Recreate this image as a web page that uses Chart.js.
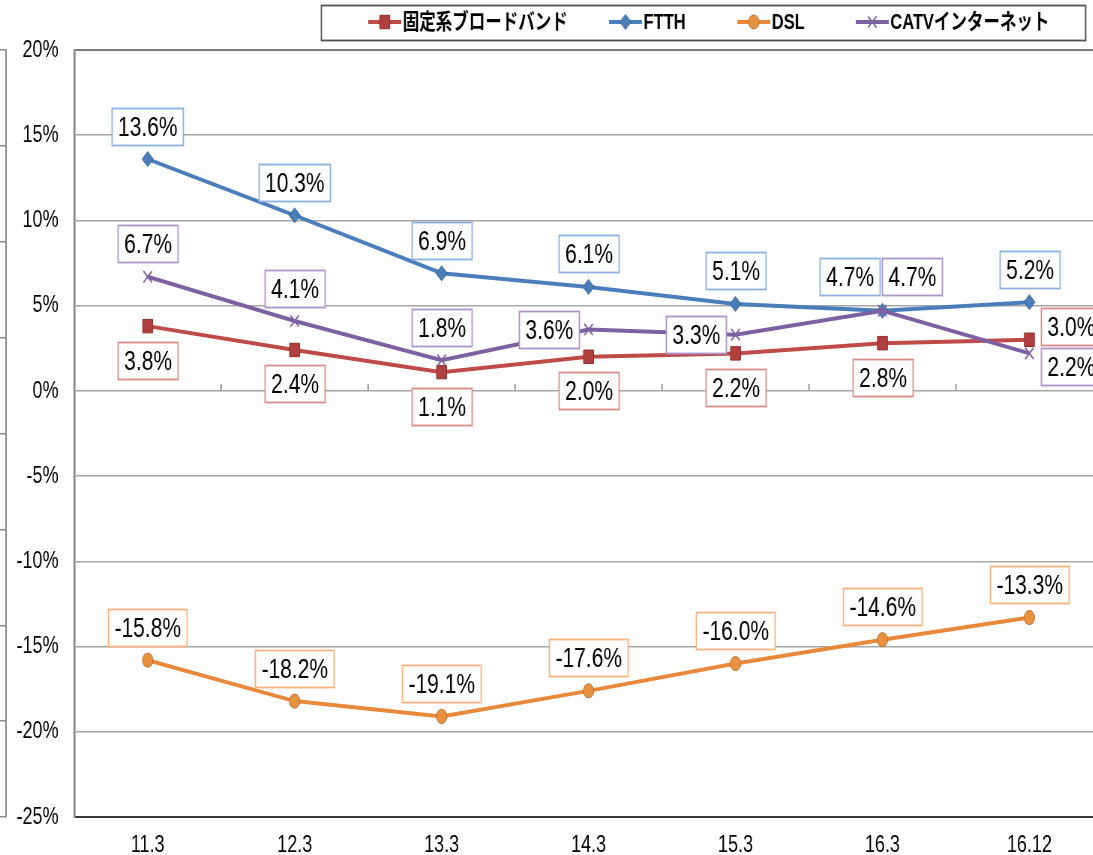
<!DOCTYPE html>
<html>
<head>
<meta charset="utf-8">
<script src="https://cdn.jsdelivr.net/npm/chart.js@4.4.1/dist/chart.umd.min.js"></script>
<style>
  html, body { margin: 0; padding: 0; overflow: hidden; background: #fff; }
  /* the chart is drawn wide and then compressed horizontally for a condensed look */
  canvas { display: block; transform: scaleX(0.75); transform-origin: 0 0; }
</style>
</head>
<body>
<canvas id="growth" width="1481" height="855"></canvas>
<script>
// Year-on-year change of subscriptions (%), by period
const categories = ['11.3', '12.3', '13.3', '14.3', '15.3', '16.3', '16.12'];
const broadband = [3.8, 2.4, 1.1, 2.0, 2.2, 2.8, 3.0];
const ftth      = [13.6, 10.3, 6.9, 6.1, 5.1, 4.7, 5.2];
const dsl       = [-15.8, -18.2, -19.1, -17.6, -16.0, -14.6, -13.3];
const catv      = [6.7, 4.1, 1.8, 3.6, 3.3, 4.7, 2.2];
const seriesNames = ['固定系ブロードバンド', 'FTTH', 'DSL', 'CATVインターネット'];

// value axis range and step (%)
const yMin = -25, yMax = 20, yStep = 5;

// where each value box sits relative to its point
const placeBroadband = ['below', 'below', 'below', 'below', 'below', 'below', 'rightUp'];
const placeFtth      = ['above', 'above', 'above', 'above', 'above', 'aboveLeft', 'above'];
const placeDsl       = ['above', 'above', 'above', 'above', 'above', 'above', 'above'];
const placeCatv      = ['above', 'above', 'above', 'left', 'left', 'aboveRight', 'rightDown'];

const SANS = '"Liberation Sans", Arial, sans-serif';
const TICK_FONT = { family: SANS, size: 24 };
const LABEL_FONT = '28px ' + SANS;

const styles = [
  { line: '#BE4B48', fill: '#B0403D', edge: '#8A2E2B', box: '#DA8A87', point: 'rect',     radius: 9.5, bw: 1 },
  { line: '#4A7EBB', fill: '#4A7EBB', edge: '#35608F', box: '#8AB0DE', point: 'rectRot',  radius: 7.5, bw: 1 },
  { line: '#E8883A', fill: '#E8913F', edge: '#B86A2C', box: '#F8B27A', point: 'circle',   radius: 7,   bw: 1 },
  { line: '#7D60A0', fill: '#7D60A0', edge: '#7D60A0', box: '#A993C8', point: 'crossRot', radius: 8,   bw: 1.8 }
];
const seriesData = [broadband, ftth, dsl, catv];
const placements = [placeBroadband, placeFtth, placeDsl, placeCatv];
const drawOrder = [3, 2, 1, 0]; // later series drawn on top

const datasets = seriesData.map((vals, i) => ({
  label: seriesNames[i],
  data: vals,
  borderColor: styles[i].line,
  backgroundColor: styles[i].fill,
  borderWidth: 4,
  tension: 0,
  pointStyle: styles[i].point,
  pointRadius: styles[i].radius,
  pointHoverRadius: styles[i].radius,
  pointBackgroundColor: styles[i].fill,
  pointBorderColor: styles[i].edge,
  pointBorderWidth: styles[i].bw,
  order: drawOrder[i]
}));

// white boxes with the value of each point
const valueBoxes = {
  id: 'valueBoxes',
  afterDatasetsDraw(chart) {
    const ctx = chart.ctx;
    ctx.save();
    ctx.font = LABEL_FONT;
    ctx.textAlign = 'center';
    ctx.textBaseline = 'middle';
    chart.data.datasets.forEach((ds, di) => {
      const meta = chart.getDatasetMeta(di);
      meta.data.forEach((pt, i) => {
        const txt = ds.data[i].toFixed(1) + '%';
        const w = Math.round(ctx.measureText(txt).width + 16), h = 37;
        let cx = pt.x, cy = pt.y;
        switch (placements[di][i]) {
          case 'above':      cy -= 33; break;
          case 'below':      cy += 34; break;
          case 'left':       cx -= 13 + w / 2; break;
          case 'aboveLeft':  cx -= 4 + w / 2; cy -= 34; break;
          case 'aboveRight': cx += w / 2 - 1; cy -= 34; break;
          case 'rightUp':    cx += 15 + w / 2; cy -= 13; break;
          case 'rightDown':  cx += 15 + w / 2; cy += 13; break;
        }
        const x0 = Math.round(cx - w / 2) + 0.5, y0 = Math.round(cy - h / 2) + 0.5;
        ctx.fillStyle = '#fff';
        ctx.fillRect(x0, y0, w, h);
        ctx.strokeStyle = styles[di].box;
        ctx.lineWidth = 1.8;
        ctx.strokeRect(x0, y0, w, h);
        ctx.fillStyle = '#000';
        ctx.fillText(txt, x0 + w / 2, y0 + h / 2 + 1);
      });
    });
    ctx.restore();
  }
};

// short category tick marks sitting on the 0% line
const zeroTicks = {
  id: 'zeroTicks',
  beforeDatasetsDraw(chart) {
    const { ctx, scales: { x, y } } = chart;
    const y0 = Math.round(y.getPixelForValue(0));
    ctx.save();
    ctx.strokeStyle = '#9a9a9a';
    ctx.lineWidth = 2;
    ctx.beginPath();
    for (let i = 1; i < categories.length; i++) {
      const xb = (x.getPixelForValue(i - 1) + x.getPixelForValue(i)) / 2;
      ctx.moveTo(xb, y0 - 7);
      ctx.lineTo(xb, y0);
    }
    ctx.stroke();
    ctx.restore();
  }
};

// framed legend with line-and-marker samples
const legendX = [491, 812, 983, 1141];
const framedLegend = {
  id: 'framedLegend',
  afterDraw(chart) {
    const ctx = chart.ctx;
    ctx.save();
    ctx.strokeStyle = '#505050';
    ctx.lineWidth = 1.8;
    ctx.strokeRect(428.5, 5.5, 1019, 35);
    const cy = 22;
    seriesNames.forEach((name, i) => {
      const s = styles[i];
      const x = legendX[i];
      ctx.strokeStyle = s.line;
      ctx.lineWidth = 4;
      ctx.beginPath();
      ctx.moveTo(x, cy);
      ctx.lineTo(x + 44, cy);
      ctx.stroke();
      ctx.fillStyle = s.fill;
      ctx.strokeStyle = s.edge;
      ctx.lineWidth = s.bw;
      Chart.helpers.drawPoint(ctx, { pointStyle: s.point, radius: s.radius, rotation: 0, borderWidth: s.bw }, x + 22, cy);
      ctx.fillStyle = '#000';
      ctx.font = 'bold 22px "Liberation Sans", "Noto Sans CJK JP", sans-serif';
      ctx.textBaseline = 'middle';
      ctx.textAlign = 'left';
      ctx.fillText(name, x + 46, cy + 1);
    });
    ctx.restore();
  }
};

new Chart(document.getElementById('growth'), {
  type: 'line',
  data: { labels: categories, datasets },
  plugins: [zeroTicks, valueBoxes, framedLegend],
  options: {
    responsive: false,
    animation: false,
    devicePixelRatio: 1,
    layout: { padding: { top: 50, right: 0, bottom: 0, left: 0 } },
    plugins: { legend: { display: false }, tooltip: { enabled: false } },
    scales: {
      x: {
        type: 'category',
        offset: true,
        grid: { display: true, drawOnChartArea: false, drawTicks: false },
        border: { display: true, color: '#3a3a3a', width: 2 },
        ticks: { font: TICK_FONT, color: '#000', padding: 14, maxRotation: 0 },
        afterFit(scale) { scale.height = 38; }
      },
      y: {
        min: yMin,
        max: yMax,
        weight: 0,
        grid: {
          drawTicks: false,
          color: (c) => c.tick && c.tick.value === yMax ? '#7a7a7a' : (c.tick && c.tick.value === yMin ? '#3a3a3a' : '#a6a6a6'),
          lineWidth: (c) => c.tick && (c.tick.value === yMax || c.tick.value === yMin) ? 2 : 1.5
        },
        border: { display: true, color: '#8a8a8a', width: 2.7 },
        ticks: {
          stepSize: yStep,
          font: TICK_FONT,
          color: '#000',
          padding: 21,
          callback: (v) => v + '%'
        },
        afterFit(scale) { scale.width = 91; }
      },
      yOuter: {
        position: 'left',
        weight: 10,
        min: 0,
        max: 8,
        grid: { display: true, drawOnChartArea: false, drawTicks: true, tickLength: 8, color: '#8a8a8a', lineWidth: 1.5 },
        border: { display: true, color: '#8a8a8a', width: 2 },
        ticks: { display: false, stepSize: 1 },
        afterFit(scale) { scale.width = 8; }
      }
    }
  }
});
</script>
</body>
</html>
